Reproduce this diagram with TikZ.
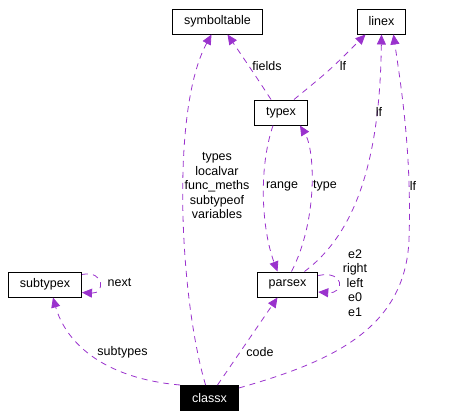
\documentclass[tikz,border=0pt]{standalone}
\usepackage{fontspec}
\setmainfont{Liberation Sans}
\usetikzlibrary{arrows.meta,positioning}
\definecolor{edgepurple}{HTML}{9A32CD}
\tikzset{
  uses/.style={-{Triangle[length=10pt,width=9pt]}, dash pattern=on 6pt off 5pt, draw=edgepurple, line width=0.8pt},
}

\begin{document}
\begin{tikzpicture}[x=1pt,y=-1pt,
            cls/.style={rectangle,draw=black,line width=1pt,minimum height=25pt,inner xsep=11.5pt,inner ysep=0pt,font=\fontsize{12.5}{14.5}\selectfont},
            lbl/.style={font=\fontsize{12.5}{14.5}\selectfont,align=center,inner sep=1pt}]
            \useasboundingbox (0,0) rectangle (450,418);

            \node[cls] (symboltable) at (217.5,21.5) {symboltable};
            \node[cls] (linex) at (381.5,21.5) {linex};
            \node[cls] (typex) at (281,112.5) {typex};
            \node[cls] (subtypex) at (45,284.5) {subtypex};
            \node[cls] (parsex) at (287.5,284.5) {parsex};
            \node[cls,fill=black,text=white] (classx) at (209.5,398) {classx};

            \draw[uses] (classx) .. controls (180,300) and (170,110) .. ([xshift=-6]symboltable.south);
            \draw[uses] ([xshift=-10]typex.north) .. controls (255,75) .. ([xshift=10]symboltable.south);
            \draw[uses] ([xshift=13]typex.north) .. controls (330,70) .. ([xshift=-16]linex.south);
            \draw[uses] ([xshift=17]parsex.north) .. controls (360,230) and (380,150) .. (linex.south);
            \draw[uses] ([yshift=-3]classx.north east) .. controls (330,362) and (405,330) .. (409,240) .. controls (412,150) and (400,80) .. ([xshift=12]linex.south);
            \draw[uses] ([xshift=-8]typex.south) .. controls (258,170) and (262,230) .. ([xshift=-10]parsex.north);
            \draw[uses] ([xshift=4]parsex.north) .. controls (318,220) and (315,150) .. ([xshift=19]typex.south);
            \draw[uses] ([yshift=-4]parsex.north east) .. controls (345,270) and (345,294) .. ([yshift=-7.5]parsex.east);
            \draw[uses] ([yshift=-3]subtypex.north east) .. controls (105,270) and (105,294) .. ([yshift=-8]subtypex.east);
            \draw[uses] (classx.north west) .. controls (100,378) and (65,340) .. ([xshift=8]subtypex.south);
            \draw[uses] ([xshift=8]classx.north) .. controls (245,345) .. ([xshift=-10]parsex.south);

            \node[lbl] (fieldslbl) at (267,66) {fields};
            \node[lbl] (lftypex) at (343,66) {lf};
            \node[lbl] (lfparsex) at (379,112) {lf};
            \node[lbl] (lfclassx) at (413,186) {lf};
            \node[lbl] (symlbl) at (217,186) {types\\localvar\\func\_meths\\subtypeof\\variables};
            \node[lbl] (rangelbl) at (282,186) {range};
            \node[lbl] (typelbl) at (325,186) {type};
            \node[lbl] (parselbl) at (355,283) {e2\\right\\left\\e0\\e1};
            \node[lbl] (nextlbl) at (119.5,283) {next};
            \node[lbl] (subtypeslbl) at (122.5,352) {subtypes};
            \node[lbl] (codelbl) at (260,352) {code};

         \end{tikzpicture}
\end{document}
